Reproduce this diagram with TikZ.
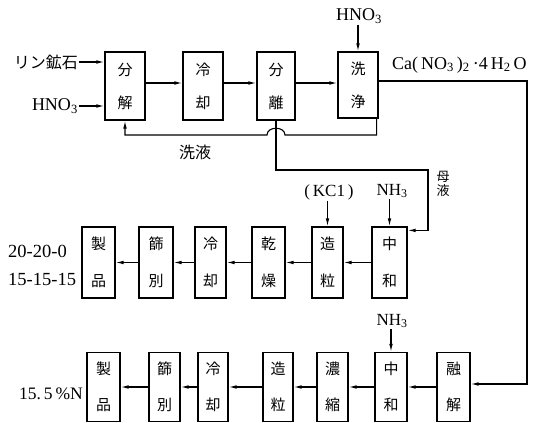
\documentclass[tikz,border=0pt]{standalone}
\usepackage{fontspec}
\newfontfamily\cjk{Noto Sans CJK JP}
\newfontfamily\lat{Liberation Serif}
\usetikzlibrary{arrows.meta}
\newcommand\sbsc[1]{\textsubscript{#1}}
\begin{document}
\begin{tikzpicture}[x=1pt,y=-1pt,
  ln/.style={line width=1.1pt},
  arr/.style={ln,-{Latex[length=8pt,width=3.6pt]}},
  box/.style={draw,line width=1.2pt,inner sep=0pt,align=center},
  rowa/.style={box,minimum height=68pt,font=\cjk\fontsize{15}{33}\selectfont},
  rowb/.style={box,minimum height=71pt,font=\cjk\fontsize{15}{37}\selectfont},
  rowc/.style={box,minimum height=69pt,font=\cjk\fontsize{15}{36}\selectfont},
  lbl/.style={inner sep=1pt,font=\lat\fontsize{17}{19}\selectfont},
  jl/.style={inner sep=1pt,font=\cjk\fontsize{16}{18}\selectfont},
  num/.style={inner sep=0pt,font=\lat\fontsize{18.5}{20}\selectfont}]
\useasboundingbox (0,0) rectangle (533,423);
% row 1
\node[rowa,minimum width=40pt] (A1) at (125,86) {分\\解};
\node[rowa,minimum width=40pt] (A2) at (203,86) {冷\\却};
\node[rowa,minimum width=38pt] (A3) at (276,86) {分\\離};
\node[rowa,minimum width=40pt,minimum height=66pt] (A4) at (358,85) {洗\\浄};
% row 2
\node[rowb,minimum width=33pt] (B1) at (98.5,262.5) {製\\品};
\node[rowb,minimum width=34pt] (B2) at (156,262.5) {篩\\別};
\node[rowb,minimum width=31pt] (B3) at (210.5,262.5) {冷\\却};
\node[rowb,minimum width=33pt] (B4) at (268.5,262.5) {乾\\燥};
\node[rowb,minimum width=31pt] (B5) at (327.5,262.5) {造\\粒};
\node[rowb,minimum width=35pt] (B6) at (389.5,262.5) {中\\和};
% row 3
\node[rowc,minimum width=33pt] (C1) at (103.5,387) {製\\品};
\node[rowc,minimum width=31pt] (C2) at (164.5,387) {篩\\別};
\node[rowc,minimum width=30pt] (C3) at (213,387) {冷\\却};
\node[rowc,minimum width=30pt] (C4) at (278,387) {造\\粒};
\node[rowc,minimum width=31pt] (C5) at (332.5,387) {濃\\縮};
\node[rowc,minimum width=32pt] (C6) at (391,387) {中\\和};
\node[rowc,minimum width=33pt] (C7) at (453.5,387) {融\\解};
% labels
\node[jl,anchor=east] (ore) at (79,62) {リン鉱石};
\node[lbl,anchor=east,font=\lat\fontsize{18}{20}\selectfont] (hl) at (79,106) {HNO\sbsc{3}};
\node[lbl,font=\lat\fontsize{18}{20}\selectfont] (ht) at (359,16) {HNO\sbsc{3}};
\node[lbl,anchor=west,font=\lat\fontsize{18}{20}\selectfont] (ca) at (391,65) {Ca(\,NO\sbsc{3}\,)\sbsc{2}\,·4\,H\sbsc{2}\,O};
\node[jl] (wash) at (195,152) {洗液};
\node[inner sep=0pt,align=center,font=\cjk\fontsize{13}{14}\selectfont] (mother) at (443,184) {母\\液};
\node[lbl] (kcl) at (329,192) {(\,KC1\,)};
\node[lbl] (nh1) at (392,191) {NH\sbsc{3}};
\node[lbl] (nh2) at (392,321) {NH\sbsc{3}};
\node[num,anchor=west] (p1) at (8,251) {20-20-0};
\node[num,anchor=west] (p2) at (8,279) {15-15-15};
\node[num,anchor=east,font=\lat\fontsize{17.5}{20}\selectfont] (p3) at (83,394) {15.\,5\,\%N};
% row 1 connections
\draw[arr] (ore.east) -- (A1.west |- ore.east);
\draw[arr] (hl.east) -- (A1.west |- hl.east);
\draw[arr] ([yshift=3pt]A1.east) -- ([yshift=3pt]A2.west);
\draw[arr] ([yshift=3pt]A2.east) -- ([yshift=3pt]A3.west);
\draw[arr] ([yshift=3pt]A3.east) -- ([yshift=2pt]A4.west);
\draw[arr] (A4.north |- ht.south) -- (A4.north);
% wash liquor loop with hop
\draw[arr] ([xshift=-2pt]A4.south east) |- (285,135) .. controls (285,126) and (267,126) .. (267,135) -| (A1.south);
% mother liquor
\draw[arr] (A3.south) |- (428,170) |- ([yshift=-4pt]B6.north east);
% Ca(NO3)2 line
\draw[arr] ([yshift=4pt]A4.east) -| (527,384) -- (C7.east |- 527,384);
% row 2
\draw[arr] (B5.north |- kcl.south) -- (B5.north);
\draw[arr] (B6.north |- nh1.south) -- (B6.north);
\draw[arr] (B6.west) -- (B5.east);
\draw[arr] (B5.west) -- (B4.east);
\draw[arr] (B4.west) -- (B3.east);
\draw[arr] (B3.west) -- (B2.east);
\draw[arr] (B2.west) -- (B1.east);
% row 3
\draw[arr] (C6.north |- nh2.south) -- (C6.north);
\draw[arr] (C7.west) -- (C6.east);
\draw[arr] (C6.west) -- (C5.east);
\draw[arr] (C5.west) -- (C4.east);
\draw[arr] (C4.west) -- (C3.east);
\draw[arr] (C3.west) -- (C2.east);
\draw[arr] (C2.west) -- (C1.east);
\end{tikzpicture}
\end{document}
